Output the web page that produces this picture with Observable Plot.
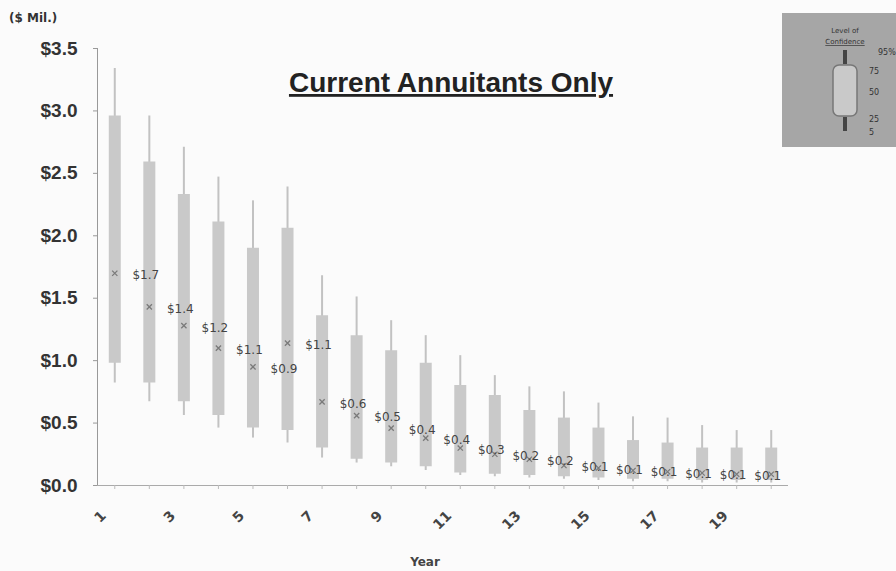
<!DOCTYPE html>
<html>
<head>
<meta charset="utf-8">
<script src="https://cdn.jsdelivr.net/npm/d3@7"></script>
<script src="https://cdn.jsdelivr.net/npm/@observablehq/plot@0.6"></script>
<style>
  html, body { margin: 0; padding: 0; background: #fbfbfb; }
  #wrap { position: relative; width: 896px; height: 571px; overflow: hidden; }
  #overlay { position: absolute; left: 0; top: 0; pointer-events: none; }
</style>
</head>
<body>
<div id="wrap">
  <div id="chart"></div>
  <svg id="overlay" width="896" height="571">
    <text x="9" y="22" font-family="DejaVu Sans" font-weight="bold" font-size="12" fill="#333">($ Mil.)</text>
    <text x="451" y="92" text-anchor="middle" font-family="Liberation Sans, Arial" font-weight="bold" font-size="28" fill="#222" text-decoration="underline">Current Annuitants Only</text>
    <text x="425" y="566" text-anchor="middle" font-family="DejaVu Sans" font-weight="bold" font-size="12" fill="#444">Year</text>
    <g id="legend">
      <rect x="782" y="13" width="114" height="134" fill="#a6a6a6"/>
      <text x="845" y="33" text-anchor="middle" font-family="DejaVu Sans" font-size="7" fill="#333">Level of</text>
      <text x="845" y="44" text-anchor="middle" font-family="DejaVu Sans" font-size="7" fill="#333" text-decoration="underline">Confidence</text>
      <line x1="845" x2="845" y1="50" y2="64" stroke="#444" stroke-width="4"/>
      <rect x="833" y="65" width="24" height="51" rx="6" fill="#c9c9c9" stroke="#777" stroke-width="1.5"/>
      <line x1="845" x2="845" y1="117" y2="131" stroke="#444" stroke-width="4"/>
      <text x="878" y="55" font-family="DejaVu Sans" font-size="8" fill="#333">95%</text>
      <text x="869" y="74" font-family="DejaVu Sans" font-size="8" fill="#333">75</text>
      <text x="869" y="95" font-family="DejaVu Sans" font-size="8" fill="#333">50</text>
      <text x="869" y="122" font-family="DejaVu Sans" font-size="8" fill="#333">25</text>
      <text x="869" y="135" font-family="DejaVu Sans" font-size="8" fill="#333">5</text>
    </g>
  </svg>
</div>
<script>
// Data ($ millions)
const years = [1,2,3,4,5,6,7,8,9,10,11,12,13,14,15,16,17,18,19,20];
const whiskerHigh = [3.34,2.96,2.71,2.47,2.28,2.39,1.68,1.51,1.32,1.20,1.04,0.88,0.79,0.75,0.66,0.55,0.54,0.48,0.44,0.44];
const boxHigh     = [2.96,2.59,2.33,2.11,1.90,2.06,1.36,1.20,1.08,0.98,0.80,0.72,0.60,0.54,0.46,0.36,0.34,0.30,0.30,0.30];
const medians     = [1.70,1.43,1.28,1.10,0.95,1.14,0.67,0.56,0.46,0.38,0.30,0.25,0.21,0.16,0.14,0.12,0.11,0.10,0.09,0.09];
const boxLow      = [0.98,0.82,0.67,0.56,0.46,0.44,0.30,0.21,0.18,0.15,0.10,0.09,0.08,0.07,0.06,0.05,0.05,0.04,0.04,0.04];
const whiskerLow  = [0.82,0.67,0.56,0.46,0.38,0.34,0.22,0.18,0.15,0.12,0.08,0.07,0.06,0.05,0.04,0.03,0.03,0.02,0.02,0.02];
const medianLabels = ["$1.7","$1.4","$1.2","$1.1","$0.9","$1.1","$0.6","$0.5","$0.4","$0.4","$0.3","$0.2","$0.2","$0.1","$0.1","$0.1","$0.1","$0.1","$0.1",""];

const yTicks = [0,0.5,1,1.5,2,2.5,3,3.5];
const yTickLabels = ["$0.0","$0.5","$1.0","$1.5","$2.0","$2.5","$3.0","$3.5"];
const xTickYears = [1,3,5,7,9,11,13,15,17,19];
const xTickLabels = ["1","3","5","7","9","11","13","15","17","19"];

const rows = years.map((year, i) => ({
  year, lo: whiskerLow[i], q1: boxLow[i], med: medians[i], q3: boxHigh[i], hi: whiskerHigh[i], label: medianLabels[i]
}));

const chart = Plot.plot({
  width: 896,
  height: 571,
  marginLeft: 97,
  marginRight: 108,
  marginTop: 48,
  marginBottom: 86,
  style: { background: "transparent" },
  x: { domain: [0.5, 20.5] },
  y: { domain: [0, 3.5] },
  marks: [
    Plot.ruleX([0.5], { y1: 0, y2: 3.5, stroke: "#999", strokeWidth: 1 }),
    Plot.ruleY([0], { stroke: "#aaa", strokeWidth: 1 }),
    Plot.axisY({
      ticks: yTicks,
      tickFormat: d => yTickLabels[yTicks.indexOf(d)],
      tickSize: 4,
      tickPadding: 16,
      stroke: "#999",
      fill: "#333",
      fontFamily: "Liberation Sans, Arial",
      fontWeight: "bold",
      fontSize: 19,
      label: null
    }),
    Plot.axisX({
      ticks: years,
      tickFormat: () => "",
      tickSize: 4,
      stroke: "#bbb",
      label: null
    }),
    Plot.axisX({
      ticks: xTickYears,
      tickFormat: d => xTickLabels[xTickYears.indexOf(d)],
      tickSize: 0,
      tickPadding: 8,
      tickRotate: -45,
      dx: -11,
      dy: 20,
      fill: "#444",
      fontFamily: "DejaVu Sans",
      fontWeight: "bold",
      fontSize: 14,
      label: null
    }),
    Plot.ruleX(rows, { x: "year", y1: "lo", y2: "hi", stroke: "#c2c2c2", strokeWidth: 2 }),
    Plot.ruleX(rows, { x: "year", y1: "q1", y2: "q3", stroke: "#c9c9c9", strokeWidth: 12 }),
    Plot.dot(rows, { x: "year", y: "med", symbol: "times", r: 2.5, stroke: "#7a7a7a", strokeWidth: 1.3 }),
    Plot.text(rows.filter(d => d.label), {
      x: "year", y: "med", text: "label", dx: 31, dy: 2,
      fontFamily: "DejaVu Sans", fontSize: 12, fill: "#444"
    })
  ]
});
document.getElementById("chart").appendChild(chart);
</script>
</body>
</html>
